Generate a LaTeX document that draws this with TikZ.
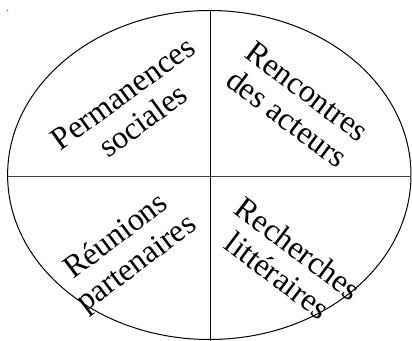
\documentclass[tikz,border=0pt]{standalone}
\usepackage{fontspec}
\setmainfont{Liberation Serif}

\tikzset{every picture/.style={line width=0.75pt}}
\tikzset{quartertext/.style={inner sep=0.75pt, align=center, font=\fontsize{24}{25.5}\selectfont}}

\begin{document}
\begin{tikzpicture}[x=0.75pt,y=0.75pt,yscale=-1,xscale=1]
\useasboundingbox (0,0) rectangle (412,341);

%Shape: Ellipse [id:dp1] 
\draw   (209.3,175) ellipse (201.7 and 164.5) ;
%Straight Lines [id:da1] 
\coordinate (hl) at (7.6,177) ;
\coordinate (hr) at (410.9,177) ;
\draw  [color={rgb, 255:red, 64; green, 64; blue, 64 }  ]  (hl) -- (hr) ;
%Straight Lines [id:da2] 
\coordinate (vt) at (211,10.6) ;
\coordinate (vb) at (211,341) ;
\draw    (vt) -- (vb) ;
%Shape: Dot [id:dp2] 
\fill  [color={rgb, 255:red, 110; green, 110; blue, 110 }  ] (7.5,10.5) circle (0.8) ;

% Text Node
\draw (133,107) node (perm) [quartertext, rotate=36] {Permanences\\sociales};
% Text Node
\draw (297,105) node (renc) [quartertext, rotate=-37] {Rencontres\\des acteurs};
% Text Node
\draw (127,251) node (reun) [quartertext, rotate=37] {Réunions\\partenaires};
% Text Node
\draw (288,262) node (rech) [quartertext, rotate=-37] {Recherches\\littéraires};

\end{tikzpicture}
\end{document}
